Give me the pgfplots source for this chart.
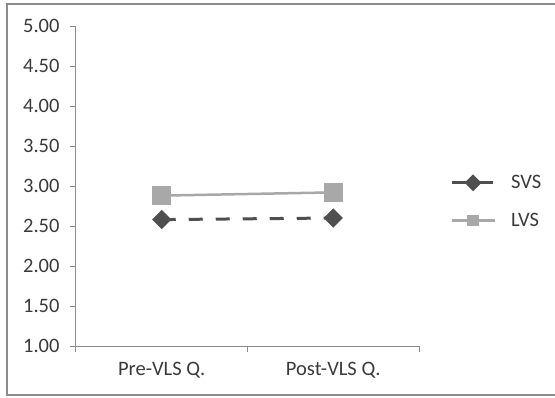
\documentclass[border=0pt]{standalone}
\usepackage{pgfplots}
\pgfplotsset{compat=1.18}
\usepackage{fontspec}
\setmainfont{Carlito}
\definecolor{svs}{HTML}{4F4F4F}
\definecolor{lvs}{HTML}{A8A8A8}
\definecolor{axisgray}{HTML}{8A8A8A}
\definecolor{framegray}{HTML}{8C8C8C}
\definecolor{txt}{HTML}{3A3A3A}
\begin{document}
\begin{tikzpicture}[x=1pt,y=1pt]
\useasboundingbox (-76,-51) rectangle (479,346);
\draw[framegray, line width=1.5pt] (-69,-49) rectangle (484,342);
\begin{axis}[
  at={(0,0)}, anchor=south west,
  scale only axis, width=343pt, height=320pt,
  xmin=-0.5, xmax=1.5, ymin=1, ymax=5,
  axis x line=bottom, axis y line=left,
  axis line style={-, draw=axisgray, line width=1pt},
  xtick={0,1}, xticklabels={Pre-VLS Q., Post-VLS Q.},
  minor xtick={-0.5,0.5,1.5},
  ytick={1,1.5,...,5},
  tick align=outside,
  major tick length=6pt, minor tick length=6pt,
  xtick style={draw=none},
  minor x tick style={draw=axisgray, line width=1pt},
  ytick style={draw=axisgray, line width=1pt},
  yticklabel={\pgfmathprintnumber[fixed,fixed zerofill,precision=2]{\tick}},
  /pgf/number format/assume math mode=true,
  ticklabel style={font=\fontsize{20.5}{24}\selectfont, text=txt},
  xticklabel style={yshift=-7pt},
  yticklabel style={xshift=-7pt},
  clip=false,
  legend style={draw=none, fill=none, at={(1.09,0.54)}, anchor=north west,
    font=\fontsize{20.5}{24}\selectfont, text=txt, row sep=19pt, inner sep=0pt},
  legend cell align=left,
  legend image code/.code={
    \draw[#1, mark=none] (0pt,0pt) -- (43pt,0pt);
    \draw[#1, mark size=4.5pt, only marks] plot coordinates {(21.5pt,0pt)};
  },
]
\addplot[svs, line width=3pt, dash pattern=on 14pt off 13pt,
  mark=square*, mark size=5.3pt, mark options={solid, rotate=45, fill=svs}]
  coordinates {(0,2.58) (1,2.60)};
\addlegendentry{\hspace{13pt}SVS}
\addplot[lvs, line width=2.5pt,
  mark=square*, mark size=8pt, mark options={solid, fill=lvs}]
  coordinates {(0,2.88) (1,2.92)};
\addlegendentry{\hspace{13pt}LVS}
\end{axis}
\end{tikzpicture}
\end{document}
